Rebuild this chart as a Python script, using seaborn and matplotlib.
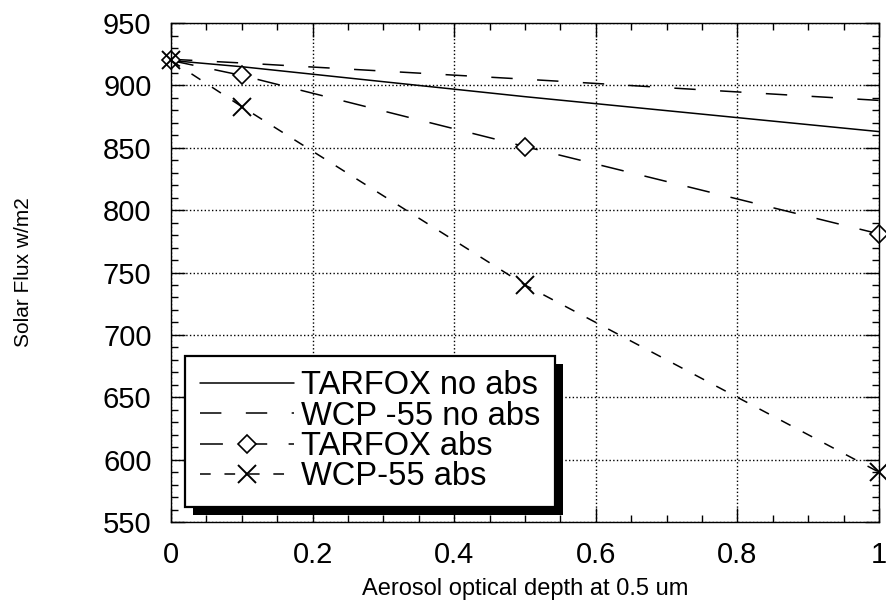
import numpy as np
import pandas as pd
import seaborn as sns
import matplotlib.pyplot as plt
from matplotlib.patches import Rectangle
from matplotlib.ticker import MultipleLocator
from matplotlib.transforms import IdentityTransform

# aerosol optical depth (x) and solar flux values
depth = [0.0, 0.1, 0.5, 1.0]
tarfox_no_abs = [920, 915, 891, 863]
wcp55_no_abs = [921, 918, 905, 888]
tarfox_abs = [920, 908, 851, 781]
wcp55_abs = [920, 883, 740, 590]

series_names = ["TARFOX no abs", "WCP -55 no abs", "TARFOX abs", "WCP-55 abs"]


def build_frame():
    rows = []
    for name, vals in zip(series_names,
                          [tarfox_no_abs, wcp55_no_abs, tarfox_abs, wcp55_abs]):
        for x, y in zip(depth, vals):
            rows.append({"depth": x, "flux": y, "series": name})
    return pd.DataFrame(rows)


def main():
    sns.set_style("ticks")
    plt.rcParams["font.family"] = ["Liberation Sans", "DejaVu Sans"]
    plt.rcParams["text.color"] = "black"
    plt.rcParams["axes.labelcolor"] = "black"

    df = build_frame()
    fig = plt.figure(figsize=(8.86, 6.07), dpi=100)
    ax = fig.add_axes([0.193, 0.140, 0.799, 0.822])

    # line styles per series
    styles = {
        "TARFOX no abs": dict(linestyle="-", marker=None),
        "WCP -55 no abs": dict(dashes=(14, 16), marker=None),
        "TARFOX abs": dict(dashes=(15, 14), marker="D", markersize=9,
                           markerfacecolor="white", markeredgecolor="black",
                           markeredgewidth=1.2),
        "WCP-55 abs": dict(dashes=(7, 9), marker="x", markersize=13,
                           markeredgecolor="black", markeredgewidth=1.4),
    }
    for name in series_names:
        sub = df[df["series"] == name]
        sns.lineplot(data=sub, x="depth", y="flux", ax=ax, color="black",
                     linewidth=1.1, label=name, clip_on=False, **styles[name])

    ax.set_xlim(0, 1)
    ax.set_ylim(550, 950)
    ax.xaxis.set_major_locator(MultipleLocator(0.2))
    ax.xaxis.set_minor_locator(MultipleLocator(0.05))
    ax.yaxis.set_major_locator(MultipleLocator(50))
    ax.yaxis.set_minor_locator(MultipleLocator(10))
    ax.set_xticks([0, 0.2, 0.4, 0.6, 0.8, 1.0])
    ax.set_xticklabels(["0", "0.2", "0.4", "0.6", "0.8", "1"])

    ax.grid(True, which="major", linestyle=":", color="black", linewidth=1)
    ax.tick_params(which="both", direction="in", top=True, right=True,
                   colors="black", labelsize=21)
    ax.tick_params(which="major", length=10, width=1, pad=14)
    ax.tick_params(which="minor", length=5, width=1)
    for s in ax.spines.values():
        s.set_color("black")
        s.set_linewidth(1)

    ax.set_xlabel("Aerosol optical depth at 0.5 um", fontsize=17, labelpad=6)
    ax.set_ylabel("Solar Flux w/m2", fontsize=15, labelpad=50)

    leg = ax.legend(loc="lower left", bbox_to_anchor=(0.02, 0.03),
                    borderaxespad=0, fontsize=23.5, handlelength=2.9,
                    handletextpad=0.2, labelspacing=-0.02, fancybox=False,
                    frameon=True, borderpad=0.45, numpoints=1)
    frame = leg.get_frame()
    frame.set_edgecolor("black")
    frame.set_linewidth(1.6)
    frame.set_facecolor("white")
    frame.set_alpha(1)

    # heavy black drop shadow behind the legend box
    fig.canvas.draw()
    bb = frame.get_window_extent()
    shadow = Rectangle((bb.x0 + 8, bb.y0 - 8), bb.width, bb.height,
                       transform=IdentityTransform(), facecolor="black",
                       edgecolor="none", zorder=leg.get_zorder() - 0.1)
    ax.add_artist(shadow)

    fig.savefig("out.png", dpi=100)


if __name__ == "__main__":
    main()
